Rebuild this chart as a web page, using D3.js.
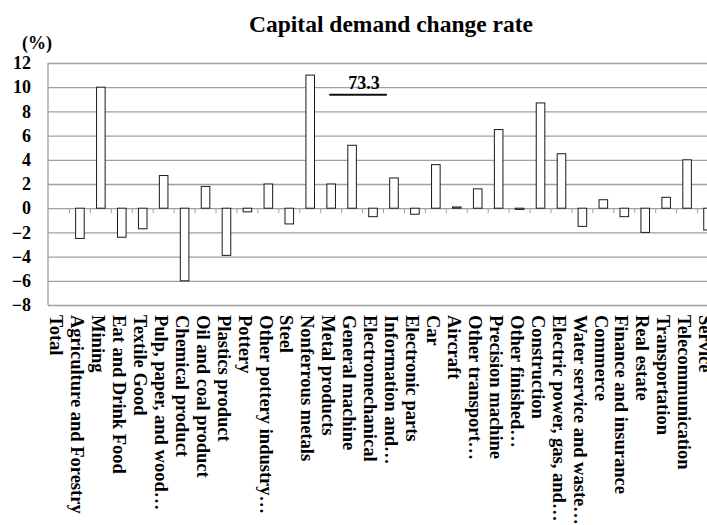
<!DOCTYPE html>
<html>
<head>
<meta charset="utf-8">
<script src="https://cdn.jsdelivr.net/npm/d3@7"></script>
<style>
body { margin: 0; background: #fff; }
svg { display: block; }
text { font-family: "Liberation Serif", "Times New Roman", serif; font-weight: bold; fill: #000; }
</style>
</head>
<body>
<svg></svg>
<script>
var categories = ["Total", "Agriculture and Forestry", "Mining", "Eat and Drink Food", "Textile Good",
	"Pulp, paper, and wood\u2026", "Chemical product", "Oil and coal product", "Plastics product", "Pottery",
	"Other pottery industry\u2026", "Steel", "Nonferrous metals", "Metal products", "General machine",
	"Electromechanical", "Information and\u2026", "Electronic parts", "Car", "Aircraft",
	"Other transport\u2026", "Precision machine", "Other finished\u2026", "Construction",
	"Electric power, gas, and\u2026", "Water service and waste\u2026", "Commerce", "Finance and insurance",
	"Real estate", "Transportation", "Telecommunication", "Service"];
var values = [0, -2.5, 10.0, -2.4, -1.7,
	2.7, -6.0, 1.8, -3.9, -0.3,
	2.0, -1.3, 11.0, 2.0, 5.2,
	-0.7, 2.5, -0.5, 3.6, 0.1,
	1.6, 6.5, -0.1, 8.7,
	4.5, -1.5, 0.7, -0.7,
	-2.0, 0.9, 4.0, -1.8];
var yTicks = [-8, -6, -4, -2, 0, 2, 4, 6, 8, 10, 12];
var title = "Capital demand change rate";
var unit = "(%)";
var note = "73.3";

var width = 707, height = 525;
var plotLeft = 48, plotRight = 718, plotTop = 63, plotBottom = 305;
var grid = "#a0a0a0";
var serif = '"Liberation Serif", "Times New Roman", serif';

var svg = d3.select("svg").attr("width", width).attr("height", height);

var x = d3.scaleBand().domain(categories).range([plotLeft, plotRight])
	.paddingInner(0.59).paddingOuter(0.295);
var xb = d3.scaleLinear().domain([0, categories.length]).range([plotLeft, plotRight]);
var y = d3.scaleLinear().domain([-8, 12]).range([plotBottom, plotTop]);

// gridlines + y labels
var ya = svg.append("g").attr("transform", "translate(" + plotLeft + ",0)")
	.call(d3.axisLeft(y).tickValues(yTicks).tickSize(-(plotRight - plotLeft)).tickPadding(17).tickFormat(d3.format("d")));
ya.attr("font-family", serif).attr("font-size", 18);
ya.select(".domain").remove();
ya.selectAll(".tick line").attr("stroke", grid).attr("stroke-width", 1.3);
ya.selectAll(".tick text")
	.style("font-family", serif).style("font-size", "18px").style("font-weight", "bold")
	.attr("fill", "#000");

// left axis line
svg.append("line")
	.attr("x1", plotLeft).attr("x2", plotLeft).attr("y1", y(12)).attr("y2", y(-8))
	.attr("stroke", grid).attr("stroke-width", 1.3);

// small ticks on zero line between categories
var xa = svg.append("g").attr("transform", "translate(0," + y(0) + ")")
	.call(d3.axisBottom(xb).tickValues(d3.range(1, categories.length)).tickSize(5).tickFormat(""));
xa.select(".domain").remove();
xa.selectAll(".tick line").attr("stroke", grid);

// bars
svg.selectAll("rect.bar")
	.data(categories.map((c, i) => ({name: c, value: values[i]})).filter(d => d.value !== 0))
	.enter().append("rect").classed("bar", true)
	.attr("x", d => x(d.name) + 0.5)
	.attr("width", x.bandwidth())
	.attr("y", d => Math.min(y(d.value), y(0)))
	.attr("height", d => Math.abs(y(d.value) - y(0)))
	.attr("fill", "#fff")
	.attr("stroke", "#1a1a1a")
	.attr("stroke-width", 1);

// category labels, rotated
svg.selectAll("text.label")
	.data(categories)
	.enter().append("text").classed("label", true)
	.attr("transform", d => "translate(" + (x(d) + x.bandwidth() / 2) + ",315) rotate(90)")
	.attr("dy", "0.45em")
	.style("font-size", "18.5px")
	.text(d => d);

// title & unit
svg.append("text").attr("x", 391).attr("y", 32).attr("text-anchor", "middle")
	.style("font-size", "23.5px").text(title);
svg.append("text").attr("x", 22).attr("y", 49).style("font-size", "18px").text(unit);

// off-scale note
var nx1 = x("General machine") - 18, nx2 = x("Electromechanical") + x.bandwidth() + 10;
svg.append("line").attr("x1", nx1).attr("x2", nx2).attr("y1", y(9.38)).attr("y2", y(9.38))
	.attr("stroke", "#111").attr("stroke-width", 2);
svg.append("text").attr("x", (nx1 + nx2) / 2 + 6).attr("y", y(9.85)).attr("text-anchor", "middle")
	.style("font-size", "18px").text(note);
</script>
</body>
</html>
